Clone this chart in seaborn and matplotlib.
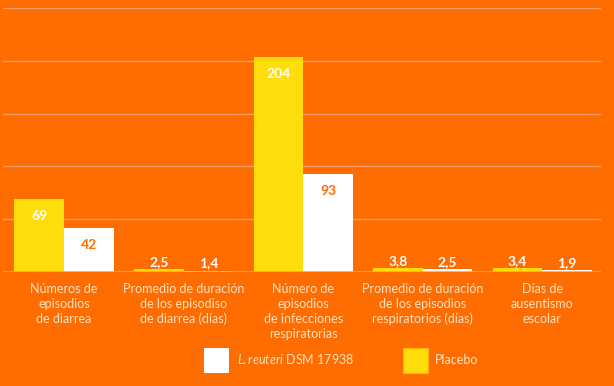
import seaborn as sns
import pandas as pd
import matplotlib.pyplot as plt

categories = [
    "Números de\nepisodios\nde diarrea",
    "Promedio de duración\nde los episodiso\nde diarrea (días)",
    "Número de\nepisodios\nde infecciones\nrespiratorias",
    "Promedio de duración\nde los episodios\nrespiratorios (días)",
    "Días de\nausentismo\nescolar",
]
placebo = [69, 2.5, 204, 3.8, 3.4]
reuteri = [42, 1.4, 93, 2.5, 1.9]
groups = ["Placebo", "L.reuteri"]

ORANGE = "#FF6C00"
YELLOW = "#FFDD0B"
PALE = "#FFE1C4"

df = pd.DataFrame({
    "cat": categories * 2,
    "valor": placebo + reuteri,
    "grupo": ["Placebo"] * 5 + ["L.reuteri"] * 5,
})

sns.set_theme(style="white")
plt.rcParams["font.family"] = ["Lato", "DejaVu Sans"]
plt.rcParams["mathtext.fontset"] = "custom"
plt.rcParams["mathtext.it"] = "Lato:italic"
plt.rcParams["mathtext.rm"] = "Lato"

fig = plt.figure(figsize=(6.14, 3.86), dpi=100, facecolor=ORANGE)
ax = fig.add_axes([3 / 614, 114 / 386, 598 / 614, 264 / 386])
ax.set_facecolor(ORANGE)

sns.barplot(data=df, x="cat", y="valor", hue="grupo", hue_order=groups,
            palette={"Placebo": YELLOW, "L.reuteri": "white"}, saturation=1,
            width=0.83, gap=0, ax=ax, legend=False, linewidth=0)

ax.set_ylim(0, 250)
ax.set_xlim(-0.51, 4.49)
ax.set_yticks([50, 100, 150, 200, 250])
ax.yaxis.grid(True, color="#F59E6A", linewidth=1)
ax.set_axisbelow(True)
ax.tick_params(axis="y", left=False, labelleft=False)
ax.tick_params(axis="x", bottom=False, pad=2, labelsize=9, labelcolor=PALE)
for lbl in ax.get_xticklabels():
    lbl.set_linespacing(1.28)
ax.set_xlabel("")
ax.set_ylabel("")
for s in ax.spines.values():
    s.set_visible(False)
ax.axhline(0, color="#F59E6A", linewidth=1.2)

for i, (cont, vals) in enumerate(zip(ax.containers, [placebo, reuteri])):
    for bar, v in zip(cont, vals):
        txt = f"{v:g}".replace(".", ",")
        x = bar.get_x() + bar.get_width() / 2
        h = bar.get_height()
        if h > 20:
            col = "white" if i == 0 else ORANGE
            ax.annotate(txt, (x, h), xytext=(0, -8), textcoords="offset points",
                        ha="center", va="top", color=col,
                        fontsize=10, fontweight="bold")
        else:
            ax.annotate(txt, (x, h), xytext=(0, 1), textcoords="offset points",
                        ha="center", va="bottom", color="white",
                        fontsize=10, fontweight="bold")

handles = [plt.Rectangle((0, 0), 1, 1, fc="white", ec="none"),
           plt.Rectangle((0, 0), 1, 1, fc=YELLOW, ec="#FFB000", lw=0.8)]
labels = [r"$\it{L.reuteri}$ DSM 17938", "Placebo"]
fig.legend(handles, labels, loc="center left", bbox_to_anchor=(198 / 614, 26 / 386),
           ncol=2, frameon=False, fontsize=9, labelcolor=PALE, borderpad=0,
           handlelength=2.0, handleheight=2.7, columnspacing=3.9, handletextpad=0.6)

fig.savefig("out.png", dpi=100, facecolor=ORANGE)
